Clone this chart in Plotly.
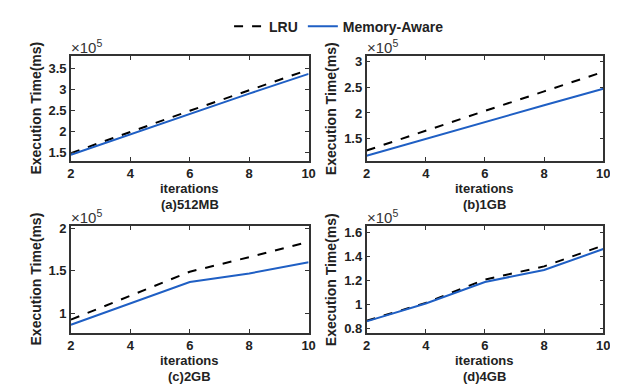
import plotly.graph_objects as go
from plotly.subplots import make_subplots

iterations = [2, 4, 6, 8, 10]

# Execution time (ms)
lru_512mb = [148000, 199000, 249000, 298000, 347000]
ma_512mb = [144000, 193000, 241000, 290000, 337000]

lru_1gb = [127000, 166000, 204000, 242000, 280000]
ma_1gb = [117000, 150000, 182000, 215000, 247000]

lru_2gb = [93000, 121000, 149000, 166000, 184000]
ma_2gb = [87000, 112000, 137000, 147000, 160000]

lru_4gb = [86500, 101500, 121000, 132000, 149500]
ma_4gb = [86000, 101000, 119000, 129000, 146500]

panel_labels = ["(a)512MB", "(b)1GB", "(c)2GB", "(d)4GB"]
y_ranges = [[1.29, 3.8], [1.065, 3.11], [0.78, 2.02], [0.767, 1.655]]
y_ticks = [[1.5, 2, 2.5, 3, 3.5], [1.5, 2, 2.5, 3], [1, 1.5, 2], [0.8, 1, 1.2, 1.4, 1.6]]
y_ticktext = [["1.5", "2", "2.5", "3", "3.5"], ["1.5", "2", "2.5", "3"],
              ["1", "1.5", "2"], ["0.8", "1", "1.2", "1.4", "1.6"]]
x_ticks = [2, 4, 6, 8, 10]

SCALE = 1e5
W, H = 618, 385
BLUE = "#1f5fc4"
TXT = "#222"
FONT = "Liberation Sans, Arial, sans-serif"

series = [(lru_512mb, ma_512mb), (lru_1gb, ma_1gb), (lru_2gb, ma_2gb), (lru_4gb, ma_4gb)]

fig = make_subplots(rows=2, cols=2)

# axis boxes in pixels: (x0, x1, ytop, ybottom)
boxes = [(60, 302, 43, 151), (361, 602, 43, 151), (60, 302, 218, 327), (361, 602, 218, 327)]

for i, (lru, ma) in enumerate(series):
    r, c = i // 2 + 1, i % 2 + 1
    fig.add_trace(go.Scatter(x=iterations, y=[v / SCALE for v in lru], mode="lines",
                             name="LRU", line=dict(color="black", width=2, dash="dash"),
                             showlegend=(i == 0)), row=r, col=c)
    fig.add_trace(go.Scatter(x=iterations, y=[v / SCALE for v in ma], mode="lines",
                             name="Memory-Aware", line=dict(color=BLUE, width=2),
                             showlegend=(i == 0)), row=r, col=c)

for i in range(4):
    x0, x1, yt, yb = boxes[i]
    xa = "xaxis" if i == 0 else f"xaxis{i+1}"
    ya = "yaxis" if i == 0 else f"yaxis{i+1}"
    fig.layout[xa].update(domain=[x0 / W, x1 / W], range=[2, 10], tickvals=x_ticks,
                          ticks="inside", ticklen=4, tickwidth=1, tickcolor="#333",
                          mirror="ticks", showline=True, linecolor="#333", linewidth=1.5,
                          showgrid=False, zeroline=False,
                          tickfont=dict(family=FONT, size=13, color=TXT, weight="bold"))
    fig.layout[ya].update(domain=[1 - yb / H, 1 - yt / H], range=y_ranges[i],
                          tickvals=y_ticks[i], ticktext=y_ticktext[i],
                          ticks="inside", ticklen=4, tickwidth=1, tickcolor="#333",
                          mirror="ticks", showline=True, linecolor="#333", linewidth=1.5,
                          showgrid=False, zeroline=False,
                          tickfont=dict(family=FONT, size=13, color=TXT, weight="bold"))
    # x10^5 multiplier
    fig.add_annotation(x=x0 / W, y=1 - yt / H, xref="paper", yref="paper",
                       text="×10<sup>5</sup>", showarrow=False, xanchor="left", yanchor="bottom",
                       font=dict(family=FONT, size=15, color="#333"), yshift=-2, xshift=-2)
    # y title
    fig.add_annotation(x=(x0 - 35.5) / W, y=1 - (yt + yb) / 2 / H, xref="paper", yref="paper",
                       text="Execution Time(ms)", showarrow=False, textangle=-90,
                       xanchor="center", yanchor="middle",
                       font=dict(family=FONT, size=14, color=TXT, weight="bold"))
    # x title
    fig.add_annotation(x=(x0 + x1) / 2 / W, y=1 - (yb + 28.5) / H, xref="paper", yref="paper",
                       text="iterations", showarrow=False, xanchor="center", yanchor="middle",
                       font=dict(family=FONT, size=13, color=TXT, weight="bold"))
    # panel label
    fig.add_annotation(x=(x0 + x1) / 2 / W, y=1 - (yb + 45) / H, xref="paper", yref="paper",
                       text=panel_labels[i], showarrow=False, xanchor="center", yanchor="middle",
                       font=dict(family=FONT, size=13, color=TXT, weight="bold"))

fig.update_layout(
    width=W, height=H, margin=dict(l=0, r=0, t=0, b=0),
    paper_bgcolor="white", plot_bgcolor="white",
    legend=dict(orientation="h", x=333 / W, y=1 - 13 / H, xanchor="center", yanchor="middle",
                font=dict(family=FONT, size=14, color=TXT, weight="bold"),
                bgcolor="rgba(0,0,0,0)", itemwidth=30, tracegroupgap=0),
)

fig.write_html("out.html")
